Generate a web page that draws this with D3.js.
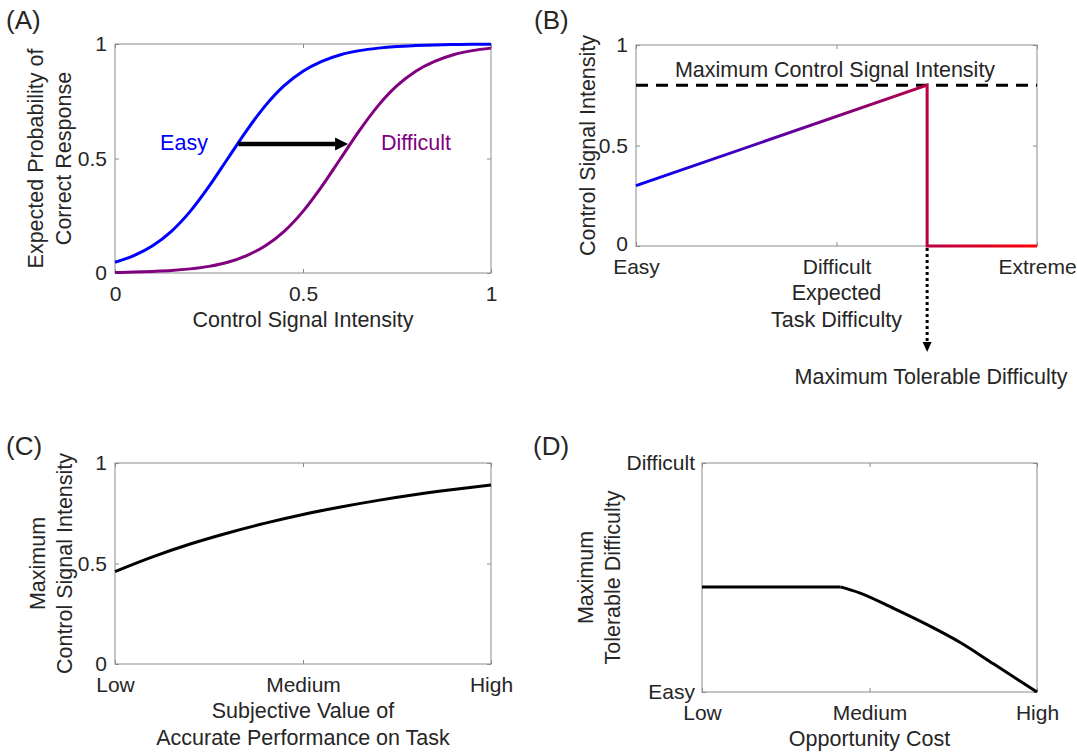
<!DOCTYPE html>
<html>
<head>
    <meta charset="utf-8">
    <style>
        body { margin: 0; background: #fff; }
        svg text { font-family: "Liberation Sans", Arial, Helvetica, sans-serif; fill: #262626; }
        .tick text { font-size: 21px; }
        .tick line { stroke: #8c8c8c; }
        .lbl { font-size: 21.5px; }
        .panel-lbl { font-size: 26px; }
        rect.box { fill: none; stroke: #8c8c8c; stroke-width: 1px; }
    </style>
</head>
<body>
<div id="chart"></div>
<script src="https://cdn.jsdelivr.net/npm/d3@7"></script>
<script>

    // (A) expected probability of a correct response vs control signal
    var sigX = [0, 0.05, 0.1, 0.15, 0.2, 0.25, 0.3, 0.35, 0.4, 0.45, 0.5,
        0.55, 0.6, 0.65, 0.7, 0.75, 0.8, 0.85, 0.9, 0.95, 1];
    var easyP = [0.047, 0.076, 0.119, 0.182, 0.269, 0.378, 0.5, 0.622, 0.731, 0.818, 0.881,
        0.924, 0.953, 0.971, 0.982, 0.989, 0.993, 0.996, 0.998, 0.999, 0.999];
    var difficultP = [0.002, 0.004, 0.007, 0.011, 0.018, 0.029, 0.047, 0.076, 0.119, 0.182, 0.269,
        0.378, 0.5, 0.622, 0.731, 0.818, 0.881, 0.924, 0.953, 0.971, 0.982];
    var shiftArrow = {from: 0.328, to: 0.62, y: 0.563};

    // (B) control signal vs expected task difficulty
    var bX = [0, 0.726, 0.726, 1];
    var bY = [0.3, 0.8, 0, 0];
    var maxControl = 0.8;
    var maxTolerable = 0.726;
    var difficultyLabels = ["Easy", "Difficult", "Extreme"];

    // (C) maximum control vs subjective value
    var cX = [0, 0.1, 0.2, 0.3, 0.4, 0.5, 0.6, 0.7, 0.8, 0.9, 1];
    var cY = [0.46, 0.533, 0.597, 0.652, 0.701, 0.744, 0.781, 0.814, 0.843, 0.868, 0.89];
    var valueLabels = ["Low", "Medium", "High"];

    // (D) maximum tolerable difficulty vs opportunity cost (flat part, then bending down)
    var dFlatX = [0, 0.413];
    var dFlatY = [0.459, 0.459];
    var dX = [0.413, 0.472, 0.572, 0.672, 0.771, 0.87, 1];
    var dY = [0.459, 0.432, 0.365, 0.294, 0.216, 0.123, 0];
    var costLabels = ["Low", "Medium", "High"];
    var tolerableLabels = ["Easy", "Difficult"];

    var svg = d3.select("#chart").append("svg")
        .attr("width", 1077)
        .attr("height", 753);

    var defs = svg.append("defs");

    function makePanel(o) {
        var g = svg.append("g").attr("transform", "translate(" + o.left + "," + o.top + ")");
        var x = d3.scaleLinear().domain([0, 1]).range([0, o.width]);
        var y = d3.scaleLinear().domain([0, 1]).range([o.height, 0]);

        var xb = d3.axisBottom(x).tickValues(o.xTicks).tickSizeInner(-4).tickSizeOuter(0).tickPadding(13)
            .tickFormat(o.xFormat);
        var xt = d3.axisTop(x).tickValues(o.xTicks).tickSizeInner(-4).tickSizeOuter(0).tickFormat("");
        var yl = d3.axisLeft(y).tickValues(o.yTicks).tickSizeInner(-4).tickSizeOuter(0).tickPadding(o.yPad || 8)
            .tickFormat(o.yFormat);
        var yr = d3.axisRight(y).tickValues(o.yTicks).tickSizeInner(-4).tickSizeOuter(0).tickFormat("");

        g.append("g").attr("transform", "translate(0," + o.height + ")").call(xb);
        g.append("g").call(xt);
        g.append("g").attr("class", "yaxis").call(yl);
        g.append("g").attr("transform", "translate(" + o.width + ",0)").call(yr);
        g.selectAll(".domain").remove();
        g.selectAll(".tick text").attr("fill", "#262626");

        g.append("rect").attr("class", "box")
            .attr("width", o.width).attr("height", o.height);

        // x label lines
        o.xLabel.forEach(function (t, i) {
            g.append("text").attr("class", "lbl")
                .attr("x", o.width / 2).attr("y", o.height + 54 + i * 27)
                .attr("text-anchor", "middle").text(t);
        });
        // y label lines (rotated)
        o.yLabel.forEach(function (t, i) {
            g.append("text").attr("class", "lbl")
                .attr("transform", "translate(" + o.yLabelX[i] + "," + o.height / 2 + ") rotate(-90)")
                .attr("text-anchor", "middle").text(t);
        });
        svg.append("text").attr("class", "panel-lbl")
            .attr("x", o.tagX).attr("y", o.tagY).text(o.tag);

        return {g: g, x: x, y: y};
    }

    function fmtNum(d) { return d === 0.5 ? "0.5" : String(d); }

    // ---------- (A)
    var A = makePanel({
        left: 115, top: 44, width: 376, height: 229,
        xTicks: [0, 0.5, 1], yTicks: [0, 0.5, 1],
        xFormat: fmtNum, yFormat: fmtNum,
        xLabel: ["Control Signal Intensity"],
        yLabel: ["Expected Probability of", "Correct Response"],
        yLabelX: [43 - 115, 71 - 115],
        tag: "(A)", tagX: 6, tagY: 29
    });

    var lineA = d3.line().curve(d3.curveMonotoneX)
        .x(function (d) { return A.x(d[0]); })
        .y(function (d) { return A.y(d[1]); });

    A.g.append("path").datum(d3.zip(sigX, difficultP))
        .attr("d", lineA).attr("fill", "none").attr("stroke", "#800080").attr("stroke-width", 3);
    A.g.append("path").datum(d3.zip(sigX, easyP))
        .attr("d", lineA).attr("fill", "none").attr("stroke", "#0000ff").attr("stroke-width", 3);

    var ax0 = A.x(shiftArrow.from), ax1 = A.x(shiftArrow.to), ay = A.y(shiftArrow.y);
    A.g.append("line").attr("x1", ax0).attr("x2", ax1 - 11).attr("y1", ay).attr("y2", ay)
        .attr("stroke", "#000").attr("stroke-width", 4.5);
    A.g.append("path")
        .attr("d", "M" + ax1 + "," + ay + "L" + (ax1 - 13) + "," + (ay - 6.5) + "L" + (ax1 - 13) + "," + (ay + 6.5) + "Z")
        .attr("fill", "#000");

    A.g.append("text").attr("class", "lbl").attr("x", 184 - 115).attr("y", 150 - 44)
        .attr("text-anchor", "middle").style("fill", "#0000ff").text("Easy");
    A.g.append("text").attr("class", "lbl").attr("x", 416 - 115).attr("y", 150 - 44)
        .attr("text-anchor", "middle").style("fill", "#800080").text("Difficult");

    // ---------- (B)
    var B = makePanel({
        left: 636, top: 45, width: 401, height: 201,
        xTicks: [0, 0.5, 1], yTicks: [0, 0.5, 1],
        xFormat: function (d, i) { return difficultyLabels[i]; }, yFormat: fmtNum,
        xLabel: ["Expected", "Task Difficulty"],
        yLabel: ["Control Signal Intensity"],
        yLabelX: [595 - 636],
        tag: "(B)", tagX: 534, tagY: 29
    });
    // the "0" sits just above "Easy" in the reference
    B.g.select(".yaxis").selectAll(".tick text").filter(function (d) { return d === 0; })
        .attr("dy", "0.22em");

    var grad = defs.append("linearGradient").attr("id", "blueRed")
        .attr("gradientUnits", "userSpaceOnUse")
        .attr("x1", B.x(0)).attr("x2", B.x(1)).attr("y1", 0).attr("y2", 0);
    grad.append("stop").attr("offset", "0%").attr("stop-color", "#0000ff");
    grad.append("stop").attr("offset", "100%").attr("stop-color", "#ff0000");

    B.g.append("line").attr("x1", B.x(0)).attr("x2", B.x(1))
        .attr("y1", B.y(maxControl)).attr("y2", B.y(maxControl))
        .attr("stroke", "#000").attr("stroke-width", 3).attr("stroke-dasharray", "12,8");

    B.g.append("text").attr("class", "lbl").attr("x", 835 - 636).attr("y", 77 - 45)
        .attr("text-anchor", "middle").text("Maximum Control Signal Intensity");

    B.g.append("path").datum(d3.zip(bX, bY))
        .attr("d", d3.line().x(function (d) { return B.x(d[0]); }).y(function (d) { return B.y(d[1]); }))
        .attr("fill", "none").attr("stroke", "url(#blueRed)").attr("stroke-width", 3)
        .attr("stroke-linejoin", "miter");

    var tx = B.x(maxTolerable);
    B.g.append("line").attr("x1", tx).attr("x2", tx).attr("y1", B.y(0) + 2).attr("y2", 297)
        .attr("stroke", "#000").attr("stroke-width", 3).attr("stroke-dasharray", "3,3");
    B.g.append("path")
        .attr("d", "M" + tx + ",307L" + (tx - 4.5) + ",297L" + (tx + 4.5) + ",297Z")
        .attr("fill", "#000");
    B.g.append("text").attr("class", "lbl").attr("x", 931 - 636).attr("y", 384 - 45)
        .attr("text-anchor", "middle").text("Maximum Tolerable Difficulty");

    // ---------- (C)
    var C = makePanel({
        left: 115, top: 463, width: 376, height: 201,
        xTicks: [0, 0.5, 1], yTicks: [0, 0.5, 1],
        xFormat: function (d, i) { return valueLabels[i]; }, yFormat: fmtNum,
        xLabel: ["Subjective Value of", "Accurate Performance on Task"],
        yLabel: ["Maximum", "Control Signal Intensity"],
        yLabelX: [45 - 115, 72 - 115],
        tag: "(C)", tagX: 6, tagY: 455
    });

    C.g.append("path").datum(d3.zip(cX, cY))
        .attr("d", d3.line().curve(d3.curveMonotoneX)
            .x(function (d) { return C.x(d[0]); }).y(function (d) { return C.y(d[1]); }))
        .attr("fill", "none").attr("stroke", "#000").attr("stroke-width", 3);

    // ---------- (D)
    var D = makePanel({
        left: 702, top: 463, width: 335, height: 229,
        xTicks: [0, 0.5, 1], yTicks: [0, 1],
        xFormat: function (d, i) { return costLabels[i]; },
        yFormat: function (d, i) { return tolerableLabels[i]; },
        yPad: 7,
        xLabel: ["Opportunity Cost"],
        yLabel: ["Maximum", "Tolerable Difficulty"],
        yLabelX: [593 - 702, 620 - 702],
        tag: "(D)", tagX: 533, tagY: 455
    });

    var lineD = d3.line().x(function (d) { return D.x(d[0]); }).y(function (d) { return D.y(d[1]); });
    D.g.append("path").datum(d3.zip(dFlatX, dFlatY))
        .attr("d", lineD).attr("fill", "none").attr("stroke", "#000").attr("stroke-width", 3);
    D.g.append("path").datum(d3.zip(dX, dY))
        .attr("d", lineD.curve(d3.curveMonotoneX)).attr("fill", "none").attr("stroke", "#000")
        .attr("stroke-width", 3).attr("stroke-linecap", "butt");

</script>
</body>
</html>
